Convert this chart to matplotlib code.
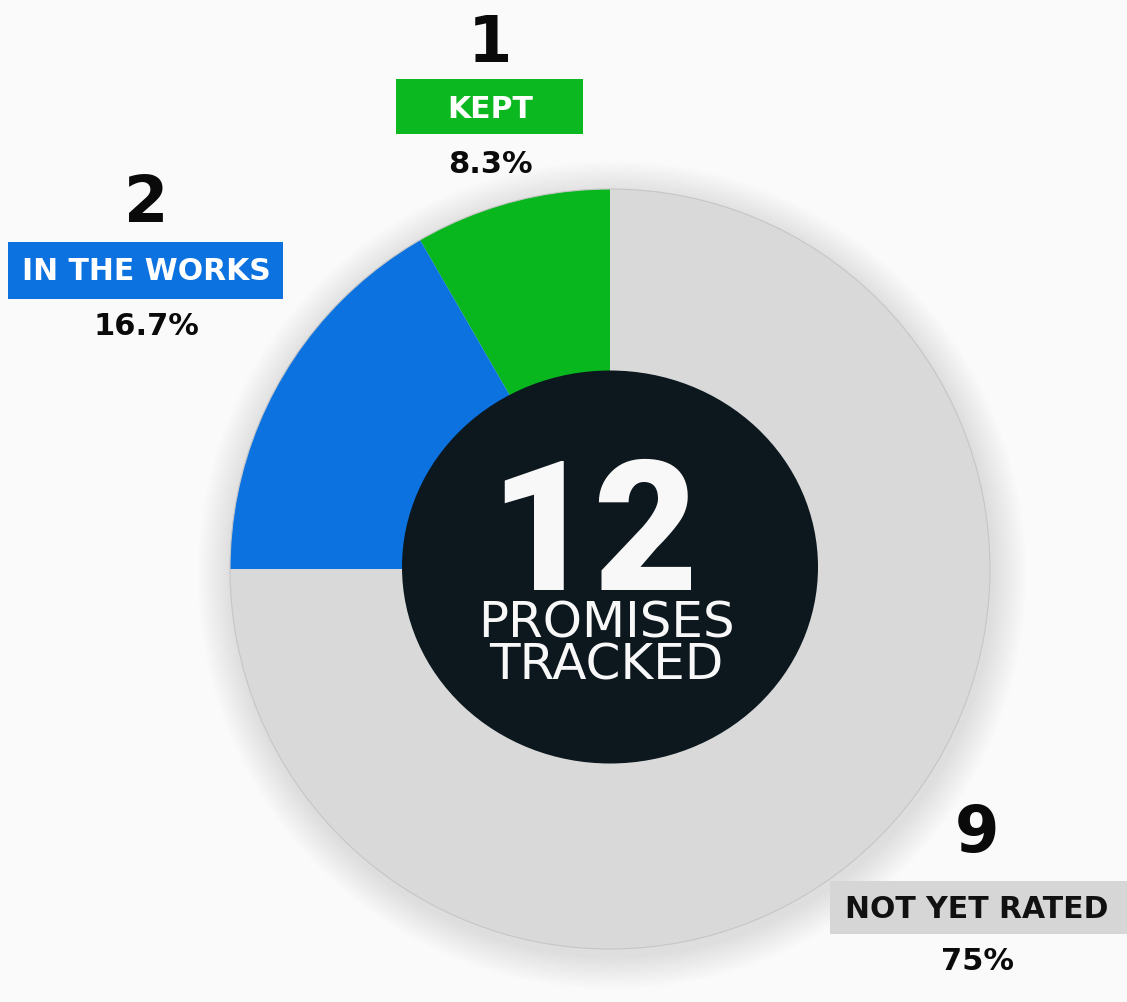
import matplotlib
matplotlib.use('Agg')
import matplotlib.pyplot as plt
from matplotlib.patches import Circle, Ellipse, Rectangle

# daten
categories = ['KEPT', 'IN THE WORKS', 'NOT YET RATED']
counts = [1, 2, 9]
pct_labels = ['8.3%', '16.7%', '75%']
total_label = '12'
center_lines = ['PROMISES', 'TRACKED']

colors = ['#08b71e', '#0b72e0', '#d9d9d9']
box_colors = ['#0cb820', '#0b72e0', '#d6d6d6']
box_text = ['white', 'white', '#111111']

W, H = 1127, 1003


def Y(py):
    # pixel y (von oben) -> daten y
    return H - py


def main():
    fig = plt.figure(figsize=(W / 100, H / 100), dpi=100)
    fig.patch.set_facecolor('#fbfafa')
    ax = fig.add_axes([0, 0, 1, 1])

    cx, cy, r = 610, Y(570), 380

    # weicher schatten
    for i in range(14):
        ax.add_patch(Circle((cx + 2, cy - 6), r + 34 - i * 2.4,
                            facecolor='#8a8a8a', edgecolor='none', alpha=0.013, zorder=1))

    ax.pie(counts, colors=colors, startangle=90, counterclock=True,
           radius=r, center=(cx, cy), frame=True,
           wedgeprops=dict(linewidth=0, zorder=2))
    ax.set_xlim(0, W)
    ax.set_ylim(0, H)
    ax.set_aspect('equal')
    ax.axis('off')

    # rand
    ax.add_patch(Circle((cx, cy), r, facecolor='none', edgecolor='#c6c6c6', lw=0.8, zorder=3))

    # mitte
    ax.add_patch(Ellipse((cx, Y(568)), 416, 393, facecolor='#0c171e', edgecolor='none', zorder=4))
    ax.text(594, Y(590), total_label, fontsize=130, fontweight='black', family='Roboto',
            color='#f8f8f8', ha='center', va='baseline', zorder=5)
    ax.text(606, Y(680), '\n'.join(center_lines), fontsize=36, family='DejaVu Sans',
            color='#f8f8f8', ha='center', va='baseline', multialignment='center',
            linespacing=0.86, zorder=5)

    # beschriftungen: (x, box links, box oben, box rechts, box unten, baseline zahl, label, pct)
    spots = [
        (490, 396, 80, 583, 135, 62, 118, 173),
        (146, 8, 243, 283, 300, 222, 280, 335),
        (977, 830, 882, 1127, 935, 852, 918, 970),
    ]
    for i in range(len(categories)):
        x, bl, bt, br, bb, yn, yl, yp = spots[i]
        ax.add_patch(Rectangle((bl, Y(bb)), br - bl, bb - bt, facecolor=box_colors[i],
                               edgecolor='none', zorder=6))
        ax.text(x, Y(yn), str(counts[i]), fontsize=46, fontweight='heavy',
                color='#0a0a0a', ha='center', va='baseline', zorder=7)
        ax.text(x, Y(yl), categories[i], fontsize=21.5, fontweight='bold',
                color=box_text[i], ha='center', va='baseline', zorder=7)
        ax.text(x, Y(yp), pct_labels[i], fontsize=22, fontweight='bold',
                color='#0a0a0a', ha='center', va='baseline', zorder=7)

    fig.savefig('out.png', dpi=100, facecolor=fig.get_facecolor())


if __name__ == '__main__':
    main()
